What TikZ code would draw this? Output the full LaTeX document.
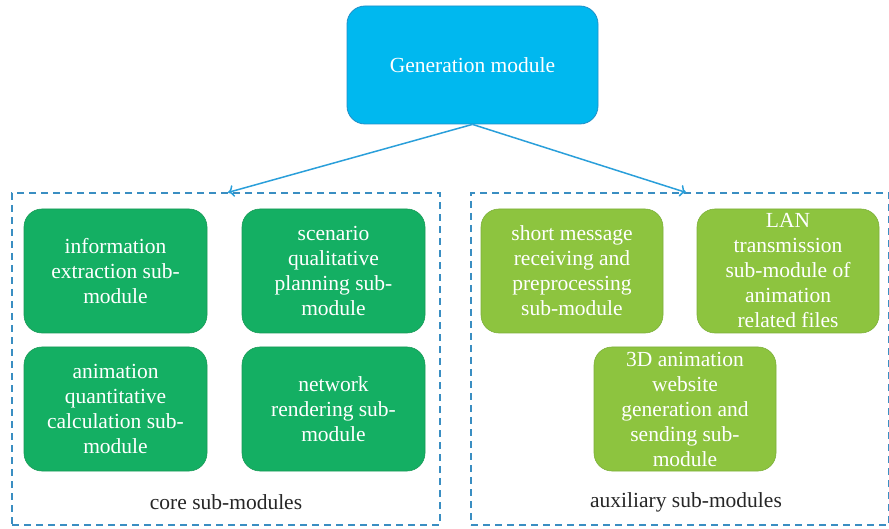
\documentclass[tikz,border=0pt]{standalone}
\usepackage{fontspec}
\setmainfont{Liberation Serif}
\usetikzlibrary{arrows.meta}
\definecolor{genblue}{HTML}{00B8EF}
\definecolor{genedge}{HTML}{1F8FC8}
\definecolor{coregreen}{HTML}{14AF63}
\definecolor{coreedge}{HTML}{189A57}
\definecolor{auxgreen}{HTML}{8DC43F}
\definecolor{auxedge}{HTML}{7CB03A}
\definecolor{linkblue}{HTML}{2A9FDA}
\definecolor{groupblue}{HTML}{3A8EC2}
\tikzset{
  modbox/.style={rounded corners=18pt, align=center, text=white,
    font=\fontsize{21.5}{25}\selectfont, inner sep=0pt},
  genbox/.style={modbox, fill=genblue, draw=genedge, line width=0.8pt,
    minimum width=251pt, minimum height=118pt},
  corebox/.style={modbox, fill=coregreen, draw=coreedge, line width=0.6pt,
    minimum width=183pt, minimum height=124pt},
  auxbox/.style={modbox, fill=auxgreen, draw=auxedge, line width=0.6pt,
    minimum width=182pt, minimum height=124pt},
  group/.style={draw=groupblue, line width=1.1pt, dash pattern=on 7pt off 5pt,
    inner sep=0pt},
  grouplabel/.style={font=\fontsize{21.5}{25}\selectfont, text=black!85},
  link/.style={draw=linkblue, line width=1.5pt, -{To[length=6pt,width=12pt]}}
}
\begin{document}
\begin{tikzpicture}[x=1pt,y=-1pt]
\useasboundingbox (0,0) rectangle (889,529);
% generation module
\node[genbox] (gen) at (472.5,65) {Generation module};
% groups
\node[group, minimum width=428pt, minimum height=332pt] (core) at (226,359) {};
\node[group, minimum width=418pt, minimum height=332pt] (aux) at (680,359) {};
\node[grouplabel] (corelabel) at (226,502) {core sub-modules};
\node[grouplabel] (auxlabel) at (686,502) {auxiliary sub-modules};
% core sub-modules
\node[corebox] (info) at (115.5,271) {information\\extraction sub-\\module};
\node[corebox] (scen) at (333.5,271) {scenario\\qualitative\\planning sub-\\module};
\node[corebox] (anim) at (115.5,409) {animation\\quantitative\\calculation sub-\\module};
\node[corebox] (netw) at (333.5,409) {network\\rendering sub-\\module};
% auxiliary sub-modules
\node[auxbox] (sms) at (572,271) {short message\\receiving and\\preprocessing\\sub-module};
\node[auxbox] (lan) at (788,271) {LAN\\transmission\\sub-module of\\animation\\related files};
\node[auxbox] (web) at (685,409) {3D animation\\website\\generation and\\sending sub-\\module};
% links
\draw[link] (gen.south) -- ([xshift=2pt]core.north);
\draw[link] (gen.south) -- ([xshift=6pt]aux.north);
\end{tikzpicture}
\end{document}
